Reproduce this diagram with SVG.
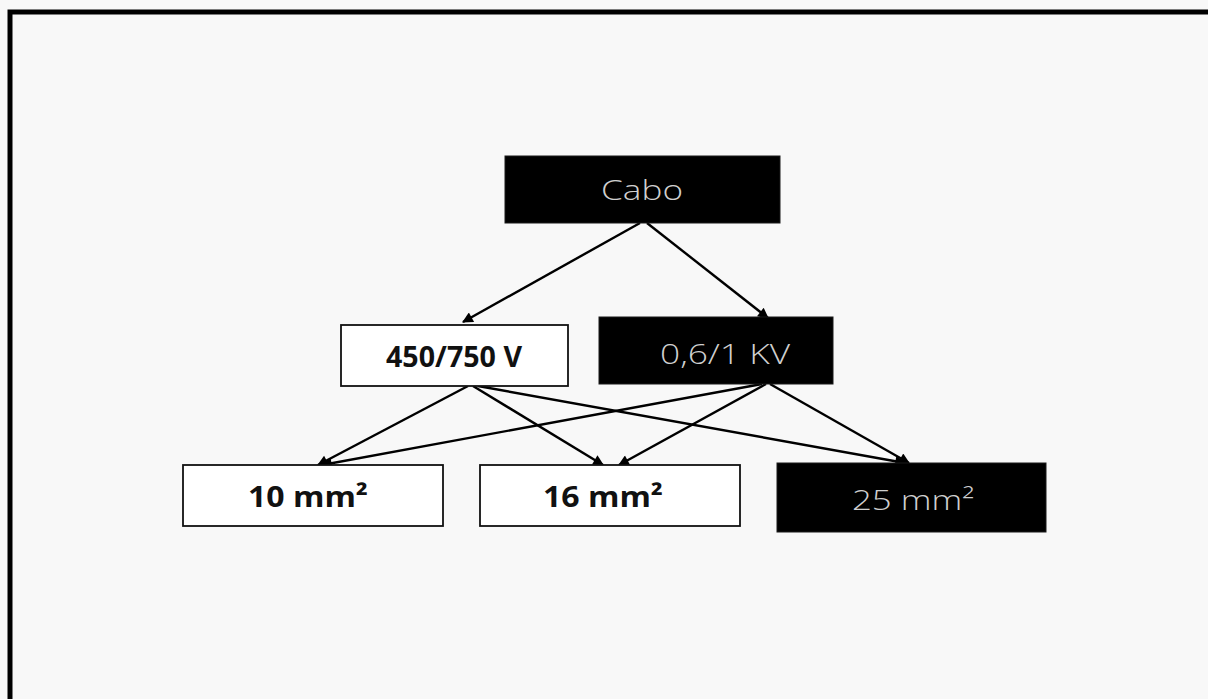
<svg xmlns="http://www.w3.org/2000/svg" width="1208" height="699" viewBox="0 0 1208 699">
<defs>
<marker id="ah" viewBox="0 0 10 10" refX="9" refY="5" markerWidth="5" markerHeight="4.5" orient="auto" markerUnits="strokeWidth">
<path d="M0,0 L10,5 L0,10 z" fill="#000"/>
</marker>
<style>
.dark{fill:#000;stroke:#1a1a1a;stroke-width:1}
.light{fill:#fff;stroke:#111;stroke-width:1.8}
.tl{font-family:"Open Sans","Liberation Sans",sans-serif;font-weight:300;fill:#cfcfcf;text-anchor:middle}
.tb{font-family:"Open Sans","Liberation Sans",sans-serif;font-weight:700;fill:#111;text-anchor:middle}
.c{stroke:#000;stroke-width:2.4;fill:none;marker-end:url(#ah)}
</style>
</defs>
<rect width="1208" height="699" fill="#f8f8f8"/>
<path d="M10,699 L10,12 L1208,12" fill="none" stroke="#000" stroke-width="5"/>
<g id="connectors">
<line class="c" x1="640" y1="223" x2="463" y2="322"/>
<line class="c" x1="647" y1="223" x2="768" y2="318"/>
<line class="c" x1="468" y1="386" x2="318" y2="465"/>
<line class="c" x1="473" y1="386" x2="603" y2="465"/>
<line class="c" x1="478" y1="386" x2="905" y2="463"/>
<line class="c" x1="762" y1="384" x2="322" y2="465"/>
<line class="c" x1="766" y1="384" x2="619" y2="465"/>
<line class="c" x1="770" y1="384" x2="909" y2="463"/>
</g>
<g id="cabo">
<rect class="dark" x="505" y="156" width="275" height="67"/>
<text class="tl" x="642" y="200" font-size="27" textLength="82" lengthAdjust="spacingAndGlyphs">Cabo</text>
</g>
<g id="v450">
<rect class="light" x="341" y="325" width="227" height="61"/>
<text class="tb" x="454" y="367" font-size="29" textLength="136" lengthAdjust="spacingAndGlyphs">450/750 V</text>
</g>
<g id="kv06">
<rect class="dark" x="599" y="317" width="234" height="67"/>
<text class="tl" x="725" y="364" font-size="28" textLength="130" lengthAdjust="spacingAndGlyphs">0,6/1 KV</text>
</g>
<g id="mm10">
<rect class="light" x="183" y="465" width="260" height="61"/>
<text class="tb" x="308" y="507" font-size="29" textLength="120" lengthAdjust="spacingAndGlyphs">10 mm²</text>
</g>
<g id="mm16">
<rect class="light" x="480" y="465" width="260" height="61"/>
<text class="tb" x="603" y="507" font-size="29" textLength="120" lengthAdjust="spacingAndGlyphs">16 mm²</text>
</g>
<g id="mm25">
<rect class="dark" x="777" y="463" width="269" height="69"/>
<text class="tl" x="913" y="510" font-size="28" textLength="122" lengthAdjust="spacingAndGlyphs">25 mm²</text>
</g>
</svg>
